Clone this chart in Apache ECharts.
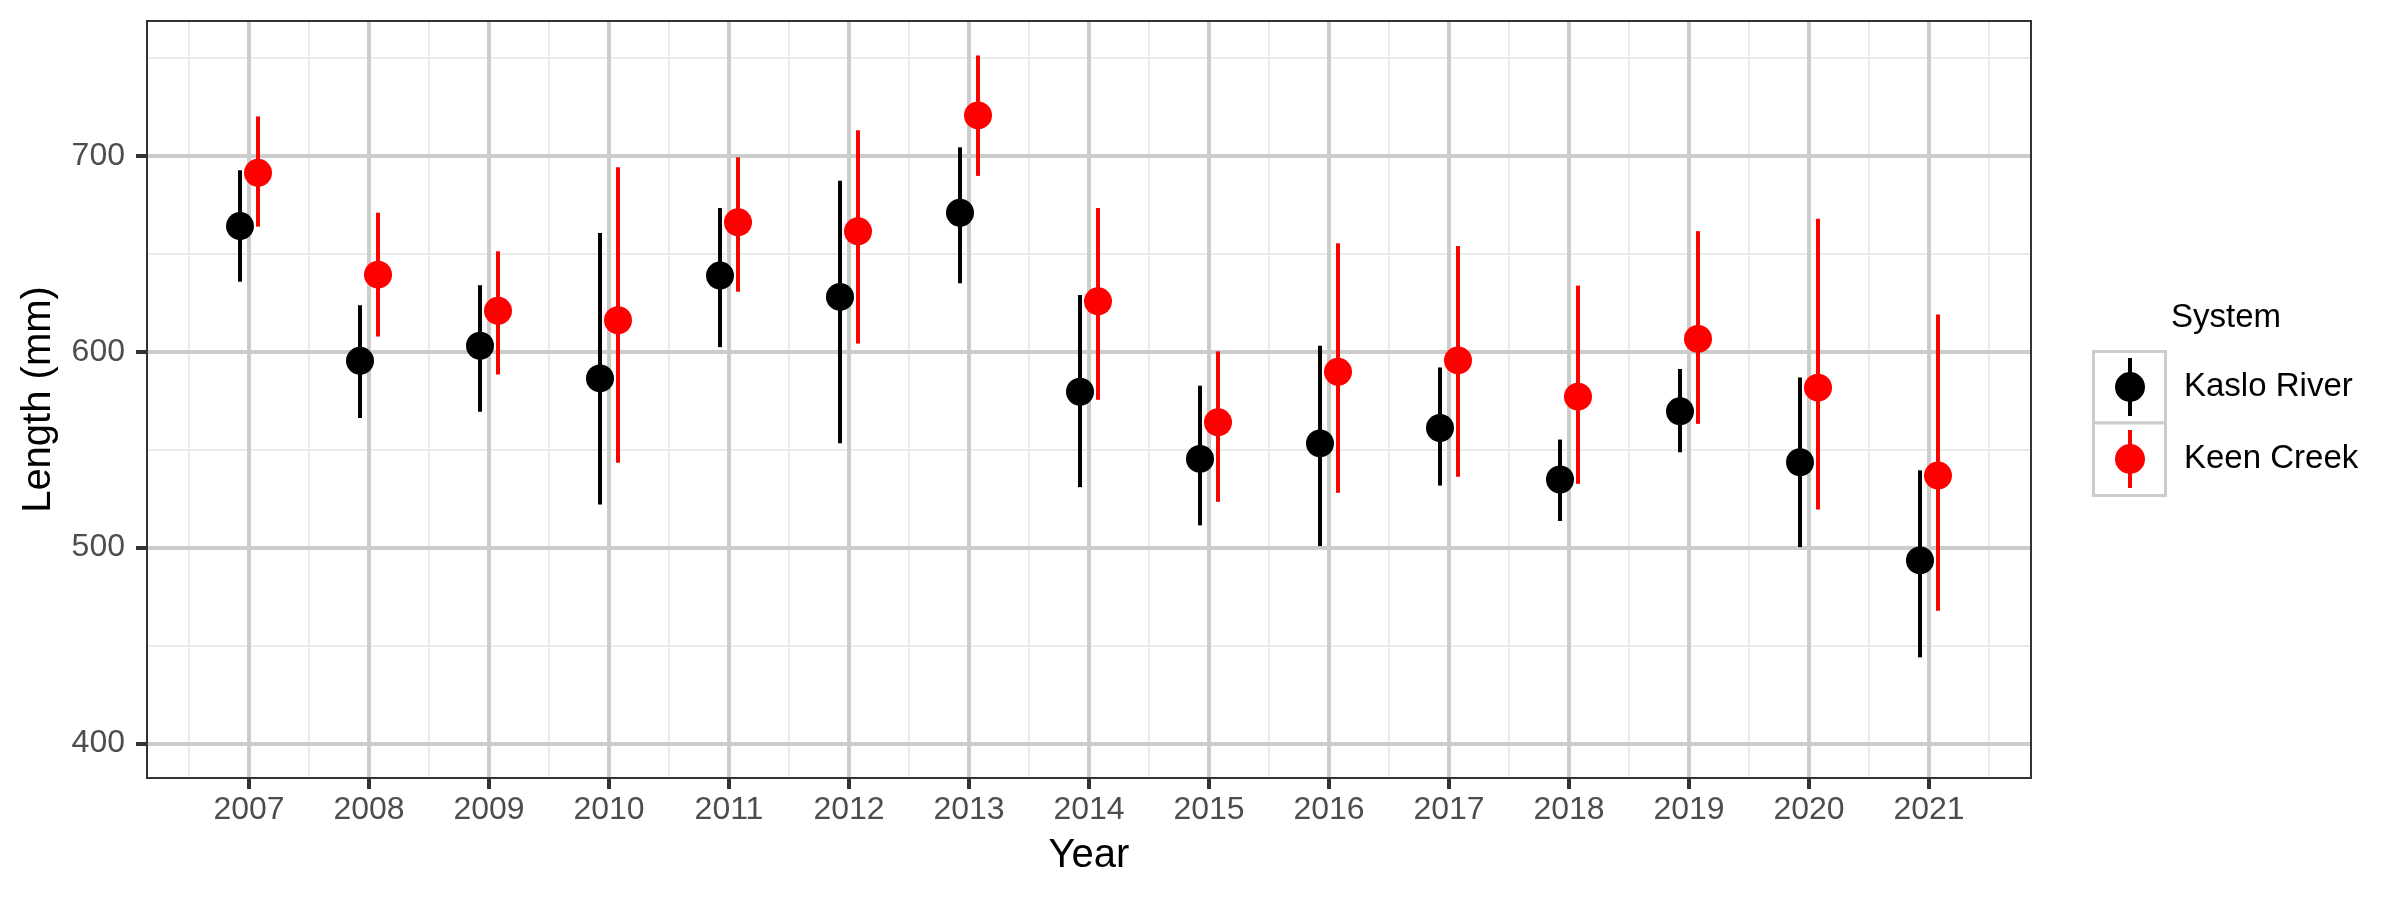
<!DOCTYPE html>
<html>
<head>
<meta charset="utf-8">
<script src="https://cdn.jsdelivr.net/npm/echarts@6/dist/echarts.min.js"></script>
<style>html,body{margin:0;padding:0;background:#fff;}#c{width:2400px;height:900px;}</style>
</head>
<body>
<div id="c"></div>
<script>
const years = [2007, 2008, 2009, 2010, 2011, 2012, 2013, 2014, 2015, 2016, 2017, 2018, 2019, 2020, 2021];
const kasloMean = [664.2, 595.4, 603.1, 586.4, 638.9, 628.0, 671.0, 579.6, 545.3, 553.2, 561.1, 534.8, 569.6, 543.6, 493.5];
const kasloLow  = [635.8, 566.2, 569.4, 522.0, 602.4, 553.3, 635.0, 530.9, 511.4, 500.8, 531.7, 513.6, 548.7, 500.3, 444.0];
const kasloHigh = [692.7, 623.8, 634.0, 660.6, 673.4, 687.3, 704.4, 629.0, 582.7, 603.1, 592.0, 555.2, 591.2, 586.9, 539.5];
const keenMean  = [691.4, 639.4, 620.9, 616.1, 666.1, 661.5, 720.7, 625.8, 564.0, 589.8, 595.6, 577.1, 606.6, 581.7, 536.8];
const keenLow   = [663.9, 607.8, 588.4, 543.3, 630.7, 604.2, 689.8, 575.5, 523.4, 528.0, 536.2, 532.6, 563.2, 519.5, 467.8];
const keenHigh  = [720.2, 671.0, 651.3, 694.2, 699.3, 713.1, 751.3, 673.4, 600.2, 655.4, 654.0, 633.8, 661.6, 667.9, 619.0];
const yTicks = [400, 500, 600, 700];
const yMinorTicks = [450, 550, 650, 750];
const xMinorTicks = [2006.5, 2007.5, 2008.5, 2009.5, 2010.5, 2011.5, 2012.5, 2013.5, 2014.5, 2015.5, 2016.5, 2017.5, 2018.5, 2019.5, 2020.5, 2021.5];

const FONT = '"Liberation Sans", Arial, sans-serif';
const DODGE = 0.075;

function rows(mean, low, high) {
  return years.map((y, i) => [y, mean[i], low[i], high[i]]);
}
function renderer(dx, color) {
  return function (params, api) {
    const x = api.value(0) + dx;
    const p = api.coord([x, api.value(1)]);
    const lo = api.coord([x, api.value(2)]);
    const hi = api.coord([x, api.value(3)]);
    return {
      type: 'group',
      children: [
        { type: 'line', shape: { x1: p[0], y1: hi[1], x2: p[0], y2: lo[1] }, style: { stroke: color, lineWidth: 4 } },
        { type: 'circle', shape: { cx: p[0], cy: p[1], r: 14 }, style: { fill: color } }
      ]
    };
  };
}

const iconPath = 'path://M13,0 H17 V58 H13 Z M0,29 A15,15 0 1 1 30,29 A15,15 0 1 1 0,29 Z';

const xMin = 2006.15, xMax = 2021.85, yMin = 382.4, yMax = 768.9;

const option = {
  animation: false,
  backgroundColor: '#ffffff',
  textStyle: { fontFamily: FONT },
  grid: { left: 147, top: 21, width: 1884, height: 757, show: true, borderColor: '#333333', borderWidth: 2, backgroundColor: 'transparent', z: 3 },
  xAxis: [
    {
      type: 'value', min: xMin, max: xMax, z: 1,
      name: 'Year', nameLocation: 'middle', nameGap: 58,
      nameTextStyle: { fontSize: 40, color: '#000', fontFamily: FONT },
      axisLine: { show: false },
      axisTick: { show: true, length: 11, customValues: years, lineStyle: { color: '#333333', width: 4 } },
      axisLabel: { customValues: years, fontSize: 32, color: '#4d4d4d', margin: 16, fontFamily: FONT, formatter: v => String(v) },
      splitLine: { show: true, lineStyle: { color: '#cccccc', width: 4 } }
    },
    {
      type: 'value', min: xMin, max: xMax, z: 0,
      axisLine: { show: false },
      axisTick: { show: false, customValues: xMinorTicks },
      axisLabel: { show: false, customValues: xMinorTicks },
      splitLine: { show: true, lineStyle: { color: '#ebebeb', width: 2 } }
    }
  ],
  yAxis: [
    {
      type: 'value', min: yMin, max: yMax, z: 1,
      name: 'Length (mm)', nameLocation: 'middle', nameGap: 88, nameRotate: 90,
      nameTextStyle: { fontSize: 40, color: '#000', fontFamily: FONT },
      axisLine: { show: false },
      axisTick: { show: true, length: 11, customValues: yTicks, lineStyle: { color: '#333333', width: 4 } },
      axisLabel: { customValues: yTicks, fontSize: 32, color: '#4d4d4d', margin: 22, fontFamily: FONT },
      splitLine: { show: true, lineStyle: { color: '#cccccc', width: 4 } }
    },
    {
      type: 'value', min: yMin, max: yMax, z: 0,
      axisLine: { show: false },
      axisTick: { show: false, customValues: yMinorTicks },
      axisLabel: { show: false, customValues: yMinorTicks },
      splitLine: { show: true, lineStyle: { color: '#ebebeb', width: 2 } }
    }
  ],
  title: {
    text: 'System', left: 2171, top: 301, padding: 0,
    textStyle: { fontSize: 33, fontWeight: 'normal', color: '#000', fontFamily: FONT }
  },
  legend: {
    orient: 'vertical', left: 2115, top: 358, padding: 0, z: 10,
    itemWidth: 30, itemHeight: 58, itemGap: 14,
    icon: iconPath, selectedMode: false,
    textStyle: { fontSize: 33, color: '#000', fontFamily: FONT, padding: [0, 0, 0, 34] },
    data: [
      { name: 'Kaslo River', itemStyle: { color: '#000000' } },
      { name: 'Keen Creek', itemStyle: { color: '#ff0000' } }
    ]
  },
  graphic: [
    { type: 'rect', z: 1, shape: { x: 2093.5, y: 351.5, width: 72, height: 71.5 }, style: { fill: '#fff', stroke: '#cccccc', lineWidth: 3 } },
    { type: 'rect', z: 1, shape: { x: 2093.5, y: 423, width: 72, height: 72.5 }, style: { fill: '#fff', stroke: '#cccccc', lineWidth: 3 } }
  ],
  series: [
    {
      name: 'Kaslo River', type: 'custom', xAxisIndex: 0, yAxisIndex: 0, z: 5,
      itemStyle: { color: '#000000' },
      renderItem: renderer(-DODGE, '#000000'),
      encode: { x: 0, y: [1, 2, 3] },
      data: rows(kasloMean, kasloLow, kasloHigh)
    },
    {
      name: 'Keen Creek', type: 'custom', xAxisIndex: 0, yAxisIndex: 0, z: 6,
      itemStyle: { color: '#ff0000' },
      renderItem: renderer(DODGE, '#ff0000'),
      encode: { x: 0, y: [1, 2, 3] },
      data: rows(keenMean, keenLow, keenHigh)
    }
  ]
};

const chart = echarts.init(document.getElementById('c'), null, { renderer: 'canvas' });
chart.setOption(option);
</script>
</body>
</html>
